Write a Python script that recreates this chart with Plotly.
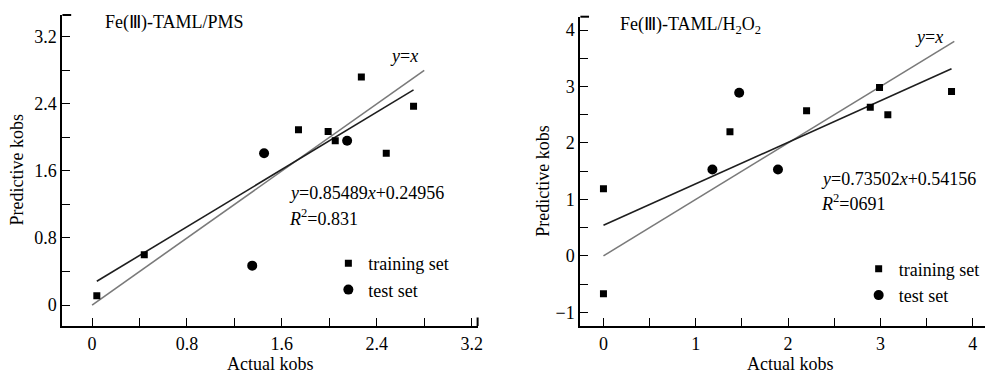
import plotly.graph_objects as go

# ---------------- data ----------------
pms_train_x = [0.04, 0.44, 1.74, 1.99, 2.05, 2.27, 2.48, 2.71]
pms_train_y = [0.11, 0.60, 2.09, 2.07, 1.96, 2.72, 1.81, 2.37]
pms_test_x = [1.35, 1.45, 2.15]
pms_test_y = [0.47, 1.81, 1.96]
pms_slope, pms_intercept = 0.85489, 0.24956
pms_identity_x = [0.0, 2.8]

h2o2_train_x = [0.0, 0.0, 1.37, 2.20, 2.89, 2.99, 3.08, 3.77]
h2o2_train_y = [1.19, -0.67, 2.20, 2.57, 2.63, 2.98, 2.50, 2.91]
h2o2_test_x = [1.18, 1.47, 1.89]
h2o2_test_y = [1.53, 2.89, 1.53]
h2o2_slope, h2o2_intercept = 0.73502, 0.54156
h2o2_identity_x = [0.0, 3.8]

pms_ticks = [0, 0.8, 1.6, 2.4, 3.2]
h2o2_xticks = [0, 1, 2, 3, 4]
h2o2_yticks = [-1, 0, 1, 2, 3, 4]

# ---------------- layout helpers ----------------
# page body has an 8px default margin; figure fills the rest of the window
OFF = 8
W, H = 993 - OFF, 373 - OFF
FONT = "Liberation Serif, Times New Roman, serif"
FS = 18


def px(x):
    return (x - OFF) / W


def py(y):
    return 1 - (y - OFF) / H


fig = go.Figure()


def add_panel(xa, ya, tx, ty, sx, sy, slope, icpt, ident_x, legend):
    fx = [min(tx), max(tx)]
    fig.add_trace(go.Scatter(x=ident_x, y=ident_x, mode="lines",
                             line=dict(color="#7a7a7a", width=1.6),
                             xaxis=xa, yaxis=ya, showlegend=False, hoverinfo="skip"))
    fig.add_trace(go.Scatter(x=fx, y=[slope * v + icpt for v in fx], mode="lines",
                             line=dict(color="#1e1e1e", width=1.6),
                             xaxis=xa, yaxis=ya, showlegend=False, hoverinfo="skip"))
    fig.add_trace(go.Scatter(x=tx, y=ty, mode="markers", name="training set",
                             marker=dict(symbol="square", size=7, color="black"),
                             xaxis=xa, yaxis=ya, legend=legend))
    fig.add_trace(go.Scatter(x=sx, y=sy, mode="markers", name="test set",
                             marker=dict(symbol="circle", size=10, color="black"),
                             xaxis=xa, yaxis=ya, legend=legend))


add_panel("x", "y", pms_train_x, pms_train_y, pms_test_x, pms_test_y,
          pms_slope, pms_intercept, pms_identity_x, "legend")
add_panel("x2", "y2", h2o2_train_x, h2o2_train_y, h2o2_test_x, h2o2_test_y,
          h2o2_slope, h2o2_intercept, h2o2_identity_x, "legend2")

axis_common = dict(showline=True, linecolor="black", linewidth=2, mirror=False,
                   ticks="inside", ticklen=8, tickwidth=1.3, tickcolor="black",
                   showgrid=False, zeroline=False,
                   tickfont=dict(family=FONT, size=FS, color="black"))

fig.update_layout(
    width=W, height=H,
    margin=dict(l=0, r=0, t=0, b=0),
    paper_bgcolor="white", plot_bgcolor="white",
    font=dict(family=FONT, size=FS, color="black"),
    xaxis=dict(domain=[px(62.7), px(480)], range=[-0.25, 3.25],
               tickvals=pms_ticks, ticktext=[f"{v:g}" for v in pms_ticks],
               minor=dict(ticks="inside", ticklen=8, tickwidth=1.3, tickcolor="black",
                          dtick=0.4, tick0=0),
               anchor="y", **axis_common),
    yaxis=dict(domain=[py(326), py(15)], range=[-0.25, 3.46],
               tickvals=pms_ticks, ticktext=[f"{v:g}" for v in pms_ticks],
               minor=dict(ticks="inside", ticklen=8, tickwidth=1.3, tickcolor="black",
                          dtick=0.4, tick0=0),
               anchor="x", **axis_common),
    xaxis2=dict(domain=[px(583.3), 1.0], range=[-0.25, 4.165],
                tickvals=h2o2_xticks,
                minor=dict(ticks="inside", ticklen=8, tickwidth=1.3, tickcolor="black",
                           dtick=0.5, tick0=0),
                anchor="y2", **axis_common),
    yaxis2=dict(domain=[py(326), py(16.7)], range=[-1.243, 4.236],
                tickvals=h2o2_yticks,
                minor=dict(ticks="inside", ticklen=8, tickwidth=1.3, tickcolor="black",
                           dtick=0.5, tick0=0),
                anchor="x2", **axis_common),
    legend=dict(x=px(330), y=py(276.5), xanchor="left", yanchor="middle",
                bgcolor="rgba(0,0,0,0)", font=dict(family=FONT, size=FS),
                itemwidth=30, tracegroupgap=0),
    legend2=dict(x=px(863), y=py(282), xanchor="left", yanchor="middle",
                 bgcolor="rgba(0,0,0,0)", font=dict(family=FONT, size=FS),
                 itemwidth=30, tracegroupgap=0),
)

# axis end caps
caps = [
    (62.7, 15, 71.5, 15),
    (480, 326, 480, 317.5),
    (583.3, 16.7, 592, 16.7),
]
for x0, y0, x1, y1 in caps:
    fig.add_shape(type="line", xref="paper", yref="paper",
                  x0=px(x0), y0=py(y0), x1=px(x1), y1=py(y1),
                  line=dict(color="black", width=2))

# text annotations
texts = [
    ("Fe(Ⅲ)-TAML/PMS", 103, 23),
    ("<i>y</i>=<i>x</i>", 390, 56),
    ("<i>y</i>=0.85489<i>x</i>+0.24956", 288, 193),
    ("<i>R</i><sup>2</sup>=0.831", 288, 217),
    ("Fe(Ⅲ)-TAML/H<sub>2</sub>O<sub>2</sub>", 620.7, 25),
    ("<i>y</i>=<i>x</i>", 918, 37),
    ("<i>y</i>=0.73502<i>x</i>+0.54156", 823, 179),
    ("<i>R</i><sup>2</sup>=0691", 823, 202),
]
for t, x, y in texts:
    fig.add_annotation(text=t, x=px(x), y=py(y), xref="paper", yref="paper",
                       xanchor="left", yanchor="middle", showarrow=False,
                       font=dict(family=FONT, size=FS, color="black"))

# axis titles
axis_titles = [
    ("Predictive kobs", 17, 169.5, -90),
    ("Actual kobs", 271, 364, 0),
    ("Predictive kobs", 545, 181.5, -90),
    ("Actual kobs", 794, 364, 0),
]
for t, x, y, ang in axis_titles:
    fig.add_annotation(text=t, x=px(x), y=py(y), xref="paper", yref="paper",
                       xanchor="center", yanchor="middle", showarrow=False,
                       textangle=ang, font=dict(family=FONT, size=FS, color="black"))

fig.write_html("out.html")
